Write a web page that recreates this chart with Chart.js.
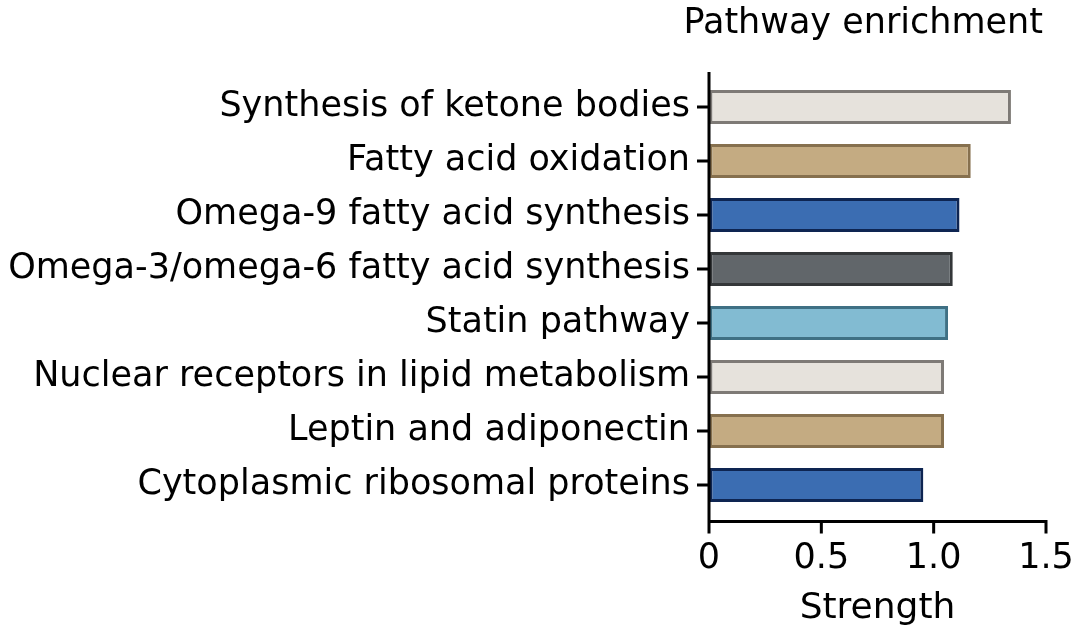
<!DOCTYPE html>
<html>
<head>
<meta charset="utf-8">
<script src="https://cdn.jsdelivr.net/npm/chart.js@4"></script>
<style>
  html, body { margin: 0; padding: 0; background: #fff; }
  #wrap { width: 1080px; height: 635px; position: relative; }
</style>
</head>
<body>
<div id="wrap"><canvas id="myChart"></canvas></div>
<script>
// data
const pathways = [
  'Synthesis of ketone bodies',
  'Fatty acid oxidation',
  'Omega-9 fatty acid synthesis',
  'Omega-3/omega-6 fatty acid synthesis',
  'Statin pathway',
  'Nuclear receptors in lipid metabolism',
  'Leptin and adiponectin',
  'Cytoplasmic ribosomal proteins'
];
const strength = [1.344, 1.165, 1.115, 1.085, 1.064, 1.046, 1.046, 0.954];
const xTicks = [0, 0.5, 1.0, 1.5];
const xTickLabels = ['0', '0.5', '1.0', '1.5'];
const chartTitle = 'Pathway enrichment';
const axisTitle = 'Strength';

// bar colours (fill / edge)
const fillColors = ['#E6E2DC', '#C4AB82', '#3B6DB2', '#61666A', '#82BBD2', '#E6E2DC', '#C4AB82', '#3B6DB2'];
const edgeColors = ['#7E7A76', '#86704E', '#0E2552', '#343739', '#3F7084', '#7E7A76', '#86704E', '#0E2552'];

const fontFamily = '"DejaVu Sans", "Liberation Sans", Arial, sans-serif';

// axis lines, tick marks and the title, drawn from the chart's own scales
const axesPlugin = {
  id: 'axesPlugin',
  afterDraw(chart) {
    const ctx = chart.ctx;
    const xs = chart.scales.x;
    const ys = chart.scales.y;
    const left = xs.getPixelForValue(0);
    const right = xs.getPixelForValue(xTicks[xTicks.length - 1]);
    const axisY = chart.chartArea.bottom + 9.5;
    const topY = chart.chartArea.top - 8;
    ctx.save();
    ctx.strokeStyle = '#000';
    ctx.lineWidth = 3;
    ctx.beginPath();
    ctx.moveTo(left, topY);
    ctx.lineTo(left, axisY + 1.5);
    ctx.moveTo(left - 1.5, axisY);
    ctx.lineTo(right + 1.5, axisY);
    xTicks.forEach(v => {
      const px = xs.getPixelForValue(v);
      ctx.moveTo(px, axisY);
      ctx.lineTo(px, axisY + 12);
    });
    pathways.forEach((p, i) => {
      const py = ys.getPixelForValue(i);
      ctx.moveTo(left - 12, py);
      ctx.lineTo(left, py);
    });
    ctx.stroke();
    // title
    ctx.fillStyle = '#000';
    ctx.font = '35px ' + fontFamily;
    ctx.textAlign = 'right';
    ctx.textBaseline = 'alphabetic';
    ctx.fillText(chartTitle, 1043, 33);
    ctx.restore();
  }
};

const data = {
  labels: pathways,
  datasets: [{
    data: strength,
    backgroundColor: fillColors,
    borderColor: edgeColors,
    borderWidth: 3,
    borderSkipped: false,
    barPercentage: 0.63,
    categoryPercentage: 1.0
  }]
};

const config = {
  type: 'bar',
  data: data,
  options: {
    indexAxis: 'y',
    responsive: true,
    maintainAspectRatio: false,
    animation: false,
    layout: { padding: { top: 80, right: 34, left: 0, bottom: 0 } },
    plugins: {
      legend: { display: false },
      tooltip: { enabled: false },
      title: { display: false }
    },
    scales: {
      x: {
        type: 'linear',
        min: 0,
        max: 1.5,
        afterBuildTicks: scale => { scale.ticks = xTicks.map(v => ({ value: v })); },
        afterFit: scale => { scale.height = 123; },
        border: { display: false },
        grid: { display: true, drawOnChartArea: false, tickLength: 20, color: 'transparent' },
        ticks: {
          color: '#000',
          padding: 6,
          maxRotation: 0,
          font: { family: fontFamily, size: 35 },
          callback: (v, i) => xTickLabels[i]
        },
        title: {
          display: true,
          text: axisTitle,
          color: '#000',
          font: { family: fontFamily, size: 36 },
          padding: { top: 0, bottom: 5 }
        }
      },
      y: {
        type: 'category',
        offset: true,
        afterFit: scale => { scale.width = 709; },
        border: { display: false },
        grid: { display: true, drawOnChartArea: false, tickLength: 12, color: 'transparent' },
        ticks: {
          color: '#000',
          padding: 7,
          font: { family: fontFamily, size: 35 }
        }
      }
    }
  },
  plugins: [axesPlugin]
};

const myChart = new Chart(document.getElementById('myChart'), config);
</script>
</body>
</html>
